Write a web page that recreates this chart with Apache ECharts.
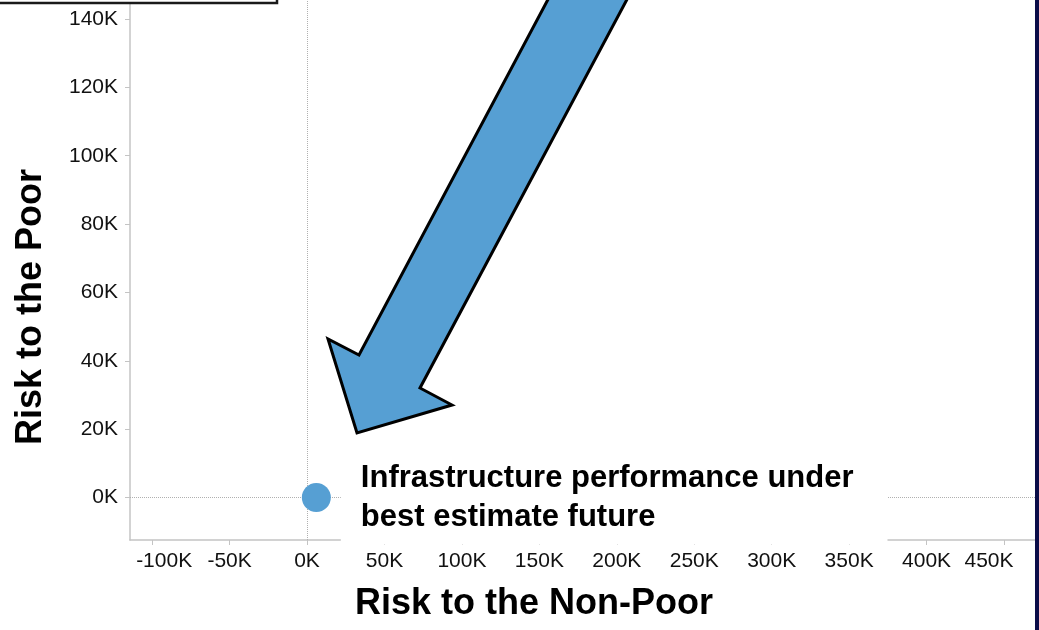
<!DOCTYPE html>
<html>
<head>
<meta charset="utf-8">
<script src="https://cdn.jsdelivr.net/npm/echarts@6/dist/echarts.min.js"></script>
<style>
  html, body { margin: 0; padding: 0; background: #fff; }
  #chart { width: 1039px; height: 630px; }
</style>
</head>
<body>
<div id="chart"></div>
<script>
// Scenario point: risk to the non-poor (x) vs. risk to the poor (y)
const pointNames = ['Infrastructure performance under\nbest estimate future'];
const riskNonPoor = [6000];
const riskPoor = [0];

// Axis tick values
const xTicks = [-100000, -50000, 0, 50000, 100000, 150000, 200000, 250000, 300000, 350000, 400000, 450000];
const yTicks = [0, 20000, 40000, 60000, 80000, 100000, 120000, 140000];

const FONT = 'Arial, "Liberation Sans", sans-serif';
const kFmt = v => Math.round(v / 1000) + 'K';

const chart = echarts.init(document.getElementById('chart'), null, { renderer: 'canvas' });

const seriesData = riskNonPoor.map((x, i) => ({ value: [x, riskPoor[i]], name: pointNames[i] }));

chart.setOption({
  animation: false,
  backgroundColor: '#ffffff',
  grid: { left: 130, right: 4, top: 0, bottom: 90, containLabel: false },
  xAxis: {
    type: 'value',
    min: -114300,
    max: 470000,
    axisLine: { show: true, onZero: false, lineStyle: { color: '#c4c4c4', width: 1.5 } },
    axisTick: { show: true, length: 5, customValues: xTicks, lineStyle: { color: '#c4c4c4' } },
    splitLine: { show: false },
    axisLabel: {
      customValues: xTicks,
      margin: 11,
      fontFamily: FONT,
      fontSize: 21,
      color: '#111',
      formatter: v => {
        if (v === xTicks[0]) return '{first|' + kFmt(v) + '}';
        if (v === xTicks[xTicks.length - 1]) return '{last|' + kFmt(v) + '}';
        return kFmt(v);
      },
      rich: {
        first: { fontFamily: FONT, fontSize: 21, color: '#111', padding: [0, 0, 0, 24] },
        last: { fontFamily: FONT, fontSize: 21, color: '#111', padding: [0, 30, 0, 0] }
      }
    }
  },
  yAxis: {
    type: 'value',
    min: -12430,
    max: 145560,
    axisLine: { show: true, onZero: false, lineStyle: { color: '#c4c4c4', width: 1.5 } },
    axisTick: { show: true, length: 5, customValues: yTicks, lineStyle: { color: '#c4c4c4' } },
    splitLine: { show: false },
    axisLabel: {
      customValues: yTicks,
      margin: 12,
      fontFamily: FONT,
      fontSize: 21,
      color: '#111',
      formatter: kFmt
    }
  },
  series: [{
    type: 'scatter',
    data: seriesData,
    symbol: 'circle',
    symbolSize: 29,
    itemStyle: { color: '#569fd3', opacity: 1 },
    z: 5,
    label: {
      show: true,
      position: 'right',
      distance: 10,
      formatter: p => p.name,
      fontFamily: FONT,
      fontSize: 31,
      fontWeight: 'bold',
      lineHeight: 39,
      color: '#000',
      backgroundColor: '#ffffff',
      padding: [6, 34, 10, 20]
    },
    markLine: {
      silent: true,
      symbol: ['none', 'none'],
      label: { show: false },
      lineStyle: { color: '#b0b0b0', type: [1, 1], width: 1 },
      data: [{ xAxis: 0 }, { yAxis: 0 }],
      z: 1
    }
  }],
  graphic: [
    // frame of the text box overlapping the top-left corner
    {
      type: 'rect',
      shape: { x: -5, y: -30, width: 282, height: 33 },
      style: { fill: '#ffffff', stroke: '#1a1a1a', lineWidth: 2.5 },
      z: 10
    },
    // dark band on the right edge
    {
      type: 'rect',
      shape: { x: 1035, y: 0, width: 4, height: 630 },
      style: { fill: '#0b0d48' },
      z: 10
    },
    // block arrow pointing at the scenario point
    {
      type: 'polygon',
      shape: {
        points: [[553, -10], [632, -10], [420, 388], [452, 405], [357, 433], [328, 339], [359, 355]]
      },
      style: { fill: '#569fd3', stroke: '#000000', lineWidth: 3, lineJoin: 'miter' },
      z: 20
    },
    // axis titles
    {
      type: 'text',
      x: 534, y: 604,
      style: {
        text: 'Risk to the Non-Poor',
        fontFamily: FONT, fontSize: 36, fontWeight: 'bold', fill: '#000',
        align: 'center', verticalAlign: 'middle'
      },
      z: 10
    },
    {
      type: 'text',
      x: 31, y: 307,
      rotation: Math.PI / 2,
      style: {
        text: 'Risk to the Poor',
        fontFamily: FONT, fontSize: 36, fontWeight: 'bold', fill: '#000',
        align: 'center', verticalAlign: 'middle'
      },
      z: 10
    }
  ]
});
</script>
</body>
</html>
